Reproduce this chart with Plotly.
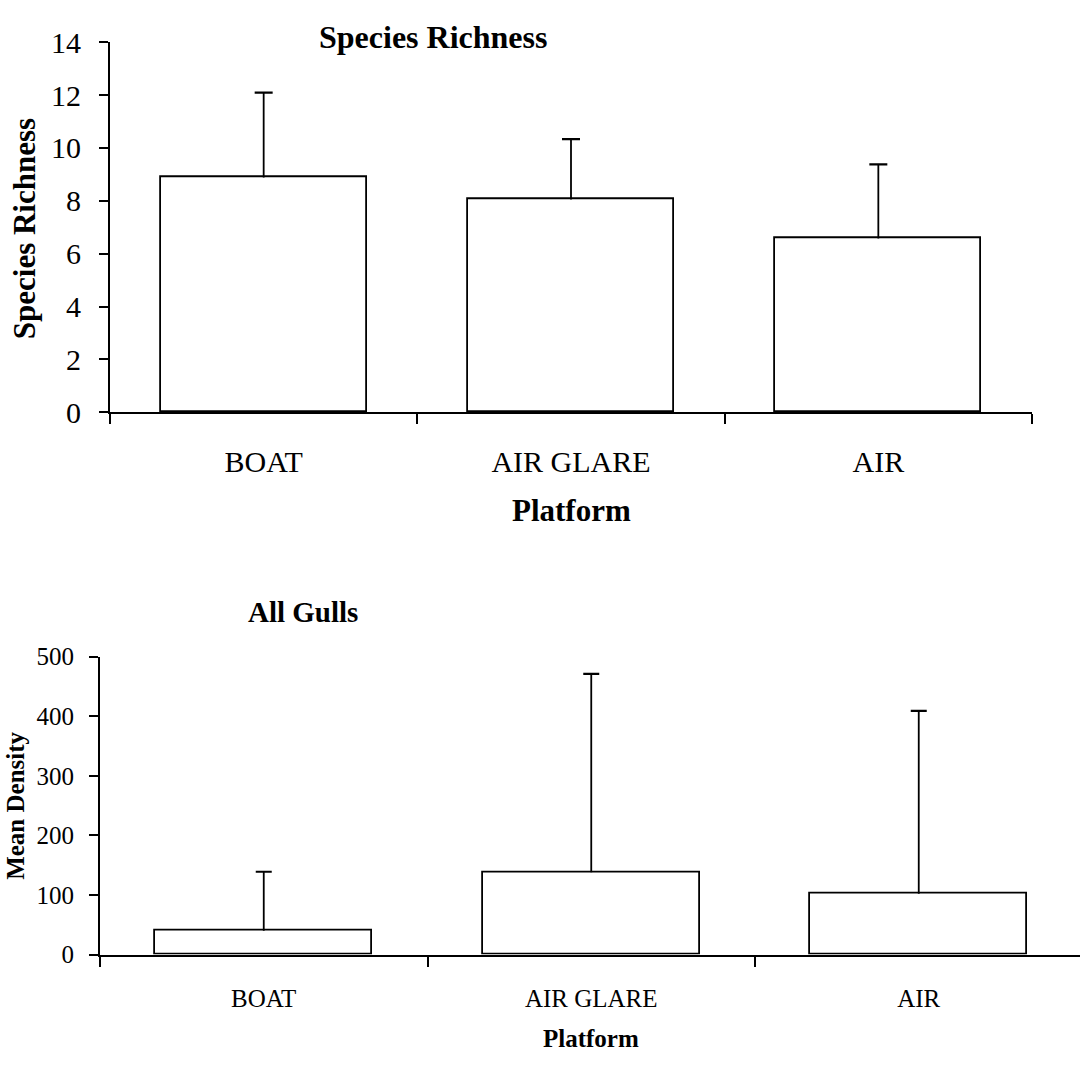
import plotly.graph_objects as go

# Platform categories shared by both panels
platforms = ["BOAT", "AIR GLARE", "AIR"]

# Species richness: means and upper standard-deviation lengths
richness_mean = [8.88, 8.05, 6.58]
richness_err = [3.21, 2.28, 2.80]
richness_ticks = [0, 2, 4, 6, 8, 10, 12, 14]

# All gulls: mean density and upper standard-deviation lengths
gulls_mean = [40, 138, 102]
gulls_err = [99, 333, 307]
gulls_ticks = [0, 100, 200, 300, 400, 500]

W, H = 1080, 1069
FONT = "Liberation Serif"
LINE_W = 1.8


def px_x(v):
    return v / W


def px_y(v):
    return 1 - v / H


fig = go.Figure()


def add_panel(means, errs, bar_width, cap_half, xref, yref):
    # White bars with black outline; the upward whisker has no caps here
    fig.add_trace(go.Bar(
        x=platforms, y=means, width=bar_width,
        marker=dict(color="white", line=dict(color="black", width=LINE_W)),
        error_y=dict(type="data", array=errs, arrayminus=[0] * len(errs),
                     symmetric=False, color="black", thickness=LINE_W,
                     width=0),
        xaxis=xref, yaxis=yref, showlegend=False, hoverinfo="skip",
    ))
    # Cap at the top of each whisker only
    tops = [m + e for m, e in zip(means, errs)]
    fig.add_trace(go.Scatter(
        x=platforms, y=tops, mode="markers",
        marker=dict(size=1, opacity=0),
        error_y=dict(type="data", array=[0] * len(tops), color="black",
                     thickness=LINE_W + 0.4, width=cap_half),
        xaxis=xref, yaxis=yref, showlegend=False, hoverinfo="skip",
    ))


add_panel(richness_mean, richness_err, 0.67, 9, "x", "y")
add_panel(gulls_mean, gulls_err, 0.663, 8, "x2", "y2")

axis_common = dict(
    showgrid=False, zeroline=False, showline=True,
    linecolor="black", linewidth=2,
    ticks="outside", tickcolor="black", tickwidth=2,
)

# Top panel: plot area spans x 110-1032 px, y 27-409 px
top_x0, top_x1 = 110, 1032
top_y0, top_y1 = 27, 409
# Bottom panel: plot area spans x 100-1080 px, y 661-968.5 px
bot_x0, bot_x1 = 100, 1080
bot_y0, bot_y1 = 661, 968.5
bot_cat_w = 327.5

fig.update_layout(
    width=W, height=H,
    margin=dict(l=0, r=0, t=0, b=0),
    paper_bgcolor="white", plot_bgcolor="white",
    bargap=0,
    font=dict(family=FONT, color="black"),
    xaxis=dict(
        domain=[px_x(top_x0), px_x(top_x1)], anchor="y",
        type="category", range=[-0.5, 2.5], tickson="boundaries",
        ticklen=10, tickfont=dict(size=30, family=FONT),
        ticklabelstandoff=22,
        **axis_common,
    ),
    yaxis=dict(
        domain=[px_y(top_y1), px_y(top_y0)], anchor="x",
        range=[0, 14], tickvals=richness_ticks, ticklen=9,
        tickfont=dict(size=30, family=FONT), ticklabelstandoff=12,
        **axis_common,
    ),
    xaxis2=dict(
        domain=[px_x(bot_x0), px_x(bot_x1)], anchor="y2",
        type="category",
        range=[-0.5, -0.5 + (bot_x1 - bot_x0) / bot_cat_w],
        tickson="boundaries",
        ticklen=10, tickfont=dict(size=25, family=FONT),
        ticklabelstandoff=20,
        **axis_common,
    ),
    yaxis2=dict(
        domain=[px_y(bot_y1), px_y(bot_y0)], anchor="x2",
        range=[0, 500], tickvals=gulls_ticks, ticklen=9,
        tickfont=dict(size=25, family=FONT), ticklabelstandoff=10,
        **axis_common,
    ),
)

titles = [
    # (text, x px, y px, size, rotation)
    ("<b>Species Richness</b>", 433, 22, 32, 0),
    ("<b>Platform</b>", 571, 510, 31, 0),
    ("<b>Species Richness</b>", 24, 220, 31, -90),
    ("<b>All Gulls</b>", 303, 615, 29, 0),
    ("<b>Platform</b>", 591, 1055, 25, 0),
    ("<b>Mean Density</b>", 16, 815, 25, -90),
]
for text, x, y, size, rot in titles:
    fig.add_annotation(
        text=text, x=px_x(x), y=px_y(y), xref="paper", yref="paper",
        xanchor="center", yanchor="middle", showarrow=False,
        textangle=rot, font=dict(size=size, family=FONT, color="black"),
    )

fig.write_html("out.html")
